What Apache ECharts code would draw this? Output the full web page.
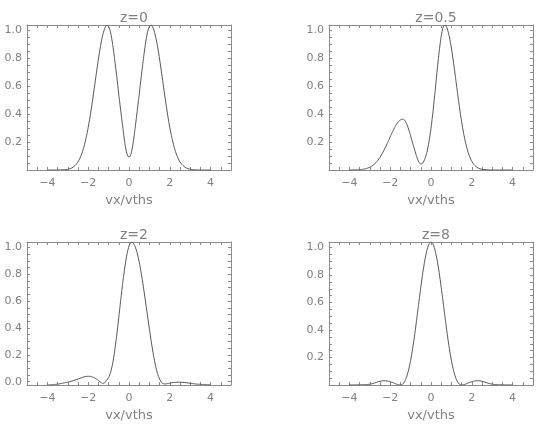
<!DOCTYPE html>
<html>
<head>
<meta charset="utf-8">
<script src="https://cdn.jsdelivr.net/npm/echarts@6/dist/echarts.min.js"></script>
<style>
  html, body { margin: 0; padding: 0; background: #fff; }
  #chart { width: 547px; height: 428px; }
</style>
</head>
<body>
<div id="chart"></div>
<script>
// velocity grid (vx/vths)
var vx = [-4.0, -3.9, -3.8, -3.7, -3.6, -3.5, -3.4, -3.3, -3.2, -3.1,
  -3.0, -2.9, -2.8, -2.7, -2.6, -2.5, -2.4, -2.3, -2.2, -2.1,
  -2.0, -1.9, -1.8, -1.7, -1.6, -1.5, -1.4, -1.3, -1.2, -1.1,
  -1.0, -0.9, -0.8, -0.7, -0.6, -0.5, -0.4, -0.3, -0.2, -0.1,
  0.0, 0.1, 0.2, 0.3, 0.4, 0.5, 0.6, 0.7, 0.8, 0.9,
  1.0, 1.1, 1.2, 1.3, 1.4, 1.5, 1.6, 1.7, 1.8, 1.9,
  2.0, 2.1, 2.2, 2.3, 2.4, 2.5, 2.6, 2.7, 2.8, 2.9,
  3.0, 3.1, 3.2, 3.3, 3.4, 3.5, 3.6, 3.7, 3.8, 3.9, 4.0]

var titles = ['z=0', 'z=0.5', 'z=2', 'z=8']

// z=0
var fz0 = [0, 0, 0, 0, 0, 0, 0, 0.001, 0.002, 0.003,
  0.005, 0.009, 0.015, 0.025, 0.039, 0.058, 0.086, 0.123, 0.171, 0.232,
  0.305, 0.39, 0.486, 0.589, 0.694, 0.795, 0.886, 0.96, 1.012, 1.038,
  1.03, 0.985, 0.90, 0.79, 0.67, 0.54, 0.42, 0.30, 0.19, 0.115,
  0.09, 0.115, 0.19, 0.30, 0.42, 0.54, 0.67, 0.79, 0.90, 0.985,
  1.03, 1.038, 1.012, 0.96, 0.886, 0.795, 0.694, 0.589, 0.486, 0.39,
  0.305, 0.232, 0.171, 0.123, 0.086, 0.058, 0.039, 0.025, 0.015, 0.009,
  0.005, 0.003, 0.002, 0.001, 0, 0, 0, 0, 0, 0, 0]

// z=0.5
var fz05 = [0, 0, 0.001, 0.001, 0.0015, 0.0025, 0.004, 0.006, 0.009, 0.014,
  0.020, 0.028, 0.039, 0.053, 0.070, 0.091, 0.115, 0.143, 0.173, 0.205,
  0.238, 0.27, 0.30, 0.326, 0.346, 0.359, 0.365, 0.358, 0.334, 0.294,
  0.245, 0.192, 0.143, 0.095, 0.058, 0.042, 0.05, 0.08, 0.127, 0.20,
  0.299, 0.422, 0.563, 0.711, 0.849, 0.96, 1.026, 1.04, 1.012, 0.956,
  0.875, 0.775, 0.665, 0.553, 0.445, 0.347, 0.262, 0.192, 0.136, 0.094,
  0.062, 0.040, 0.025, 0.015, 0.009, 0.005, 0.003, 0.002, 0.001, 0,
  0, 0, 0, 0, 0, 0, 0, 0, 0, 0, 0]

// z=2
var fz2 = [-0.025, -0.024, -0.023, -0.022, -0.02, -0.018, -0.016, -0.013, -0.01, -0.007,
  -0.004, 0.0, 0.004, 0.009, 0.014, 0.019, 0.025, 0.031, 0.036, 0.039,
  0.04, 0.039, 0.035, 0.029, 0.02, 0.009, -0.003, -0.013, -0.01, 0.01,
  0.03, 0.07, 0.135, 0.23, 0.347, 0.479, 0.615, 0.744, 0.857, 0.949,
  1.01, 1.039, 1.034, 1.007, 0.959, 0.892, 0.808, 0.711, 0.607, 0.498,
  0.391, 0.289, 0.197, 0.119, 0.059, 0.019, -0.008, -0.016, -0.017, -0.014,
  -0.011, -0.008, -0.006, -0.005, -0.004, -0.004, -0.005, -0.006, -0.008, -0.01,
  -0.012, -0.014, -0.016, -0.018, -0.019, -0.02, -0.021, -0.022, -0.022, -0.023, -0.023]

// z=8
var fz8 = [0.001, 0.001, 0.001, 0.001, 0.001, 0.002, 0.002, 0.002, 0.003, 0.004,
  0.006, 0.009, 0.013, 0.018, 0.023, 0.027, 0.030, 0.031, 0.030, 0.028,
  0.024, 0.019, 0.013, 0.007, 0.002, 0.0, 0.005, 0.023, 0.057, 0.108,
  0.178, 0.265, 0.366, 0.479, 0.596, 0.711, 0.818, 0.91, 0.98, 1.025,
  1.04, 1.025, 0.98, 0.91, 0.818, 0.711, 0.596, 0.479, 0.366, 0.265,
  0.178, 0.108, 0.057, 0.023, 0.005, 0.0, 0.002, 0.007, 0.013, 0.019,
  0.024, 0.028, 0.030, 0.031, 0.030, 0.027, 0.023, 0.018, 0.013, 0.009,
  0.006, 0.004, 0.003, 0.002, 0.002, 0.002, 0.001, 0.001, 0.001, 0.001, 0.001]

var curves = [fz0, fz05, fz2, fz8]
var yMins = [0, 0, -0.025, 0]
var yMax = 1.04
var xTickLabels = [-4, -2, 0, 2, 4]
var yTickLabels = [[0.2, 0.4, 0.6, 0.8, 1.0], [0.2, 0.4, 0.6, 0.8, 1.0],
  [0.0, 0.2, 0.4, 0.6, 0.8, 1.0], [0.2, 0.4, 0.6, 0.8, 1.0]]

var boxes = [
  { left: 27, top: 25, width: 204, height: 145 },
  { left: 329, top: 25, width: 204, height: 145 },
  { left: 27, top: 242, width: 204, height: 143 },
  { left: 329, top: 242, width: 204, height: 143 }
]

var ink = '#555'
var frame = '#8a8a8a'
var textCol = '#808080'
var font = 'DejaVu Sans'

// minor tick positions
var xMinor = []
for (var t = -9; t <= 9; t++) xMinor.push(t * 0.5)
var yMinor = []
for (var k = 0; k <= 20; k++) yMinor.push(+(k * 0.05).toFixed(2))

function fmtX(v) {
  return v < 0 ? '\u2212' + (-v) : String(v)
}

var grid = [], xAxis = [], yAxis = [], series = [], title = []
boxes.forEach(function(b, i) {
  grid.push({ left: b.left, top: b.top, width: b.width, height: b.height, containLabel: false })
  title.push({
    text: titles[i],
    left: b.left + b.width / 2,
    top: b.top - 19,
    textAlign: 'center',
    textStyle: { fontFamily: font, fontSize: 14, fontWeight: 'normal', color: textCol }
  })
  var common = {
    type: 'value', gridIndex: i, min: -5, max: 5,
    splitLine: { show: false },
    axisLine: { show: true, onZero: false, lineStyle: { color: frame, width: 1 } },
    axisTick: { show: true, inside: true, length: 3, customValues: xMinor, lineStyle: { color: frame } }
  }
  xAxis.push(Object.assign({}, common, {
    position: 'bottom',
    name: 'vx/vths', nameLocation: 'middle', nameGap: 24,
    nameTextStyle: { fontFamily: font, fontSize: 13, color: textCol },
    axisLabel: { customValues: xTickLabels, formatter: fmtX, margin: 8,
      fontFamily: font, fontSize: 11, color: textCol }
  }))
  xAxis.push(Object.assign({}, common, {
    position: 'top', axisLabel: { show: false }
  }))
  var ycommon = {
    type: 'value', gridIndex: i, min: yMins[i], max: yMax,
    splitLine: { show: false },
    axisLine: { show: true, onZero: false, lineStyle: { color: frame, width: 1 } },
    axisTick: { show: true, inside: true, length: 3, customValues: yMinor, lineStyle: { color: frame } }
  }
  yAxis.push(Object.assign({}, ycommon, {
    position: 'left',
    axisLabel: { customValues: yTickLabels[i], formatter: function(v) { return v.toFixed(1) },
      margin: 5, fontFamily: font, fontSize: 11, color: textCol }
  }))
  yAxis.push(Object.assign({}, ycommon, {
    position: 'right', axisLabel: { show: false }
  }))
  series.push({
    type: 'line', xAxisIndex: 2 * i, yAxisIndex: 2 * i,
    data: vx.map(function(x, j) { return [x, curves[i][j]] }),
    showSymbol: false, smooth: 0.2,
    lineStyle: { color: ink, width: 1 },
    animation: false
  })
})

var chart = echarts.init(document.getElementById('chart'))
chart.setOption({
  backgroundColor: '#fff',
  animation: false,
  title: title,
  grid: grid,
  xAxis: xAxis,
  yAxis: yAxis,
  series: series
})
</script>
</body>
</html>
